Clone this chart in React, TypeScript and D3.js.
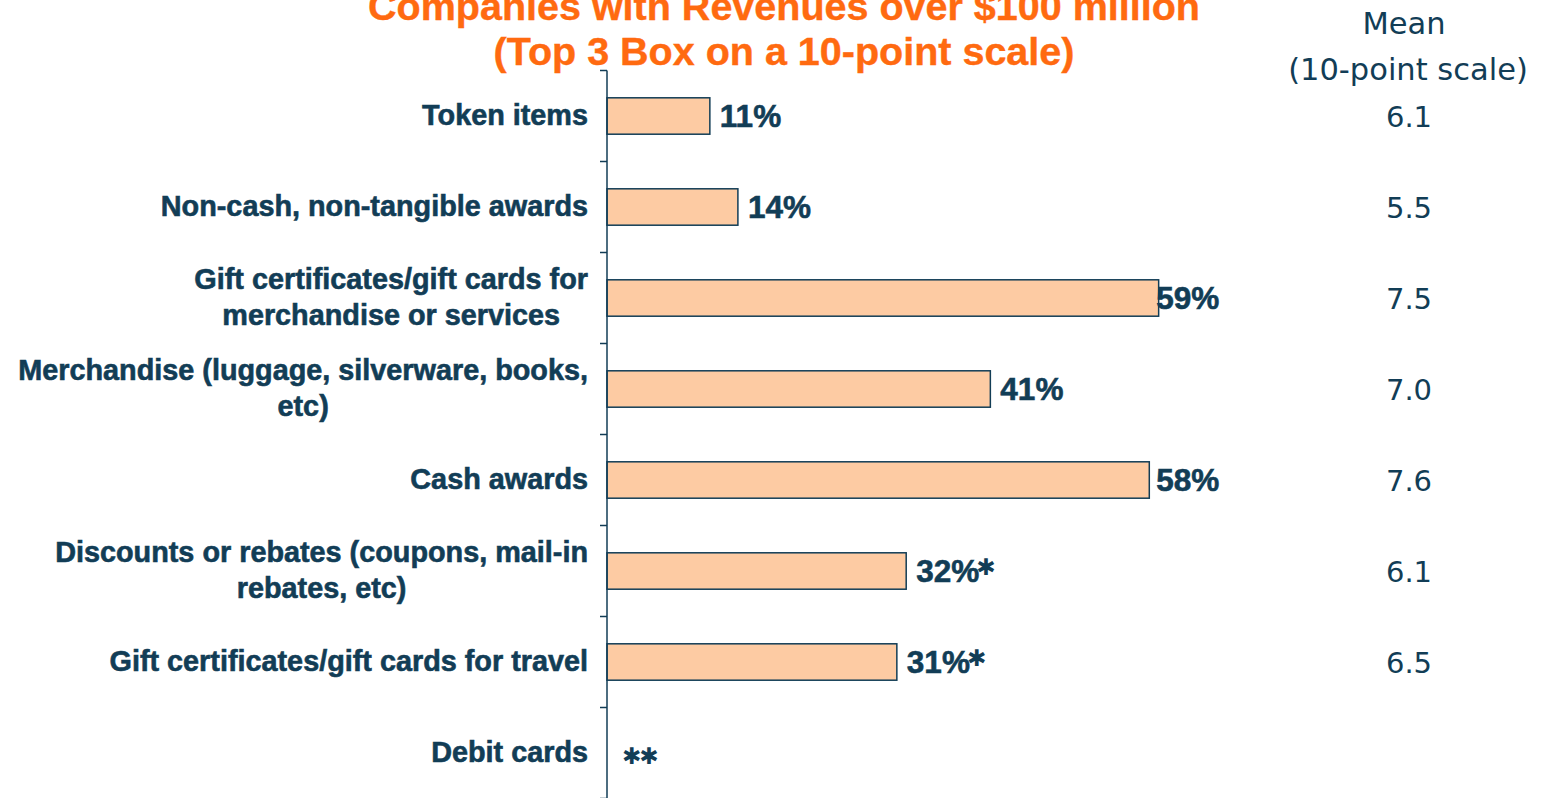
import React, { useEffect, useRef } from "react";
import * as d3 from "d3";

// categories, split into display lines
const categories = [
  ["Token items"],
  ["Non-cash, non-tangible awards"],
  ["Gift certificates/gift cards for", "merchandise or services"],
  ["Merchandise (luggage, silverware, books,", "etc)"],
  ["Cash awards"],
  ["Discounts or rebates (coupons, mail-in", "rebates, etc)"],
  ["Gift certificates/gift cards for travel"],
  ["Debit cards"],
];
const values = [11, 14, 59, 41, 58, 32, 31, null];
const notes = ["", "", "", "", "", "\u2731", "\u2731", "\u2731\u2731"];
const means = ["6.1", "5.5", "7.5", "7.0", "7.6", "6.1", "6.5", ""];

const titleLines = ["Companies with Revenues over $100 million", "(Top 3 Box on a 10-point scale)"];
const meanHeader = ["Mean", "(10-point scale)"];

const navy = "#123d56";
const orange = "#ff6a10";
const peach = "#fdcba3";
const boldFont = "Liberation Sans, Arial, sans-serif";
const plainFont = "DejaVu Sans, Verdana, sans-serif";

export default function App() {
  const ref = useRef<SVGSVGElement>(null);

  useEffect(() => {
    const svg = d3.select(ref.current);
    svg.selectAll("*").remove();

    const axisX = 607;
    const x = d3.scaleLinear().domain([0, 100]).range([axisX, axisX + 935]);
    const y = d3.scaleBand<number>()
      .domain(d3.range(categories.length))
      .range([70.5, 798.5])
      .padding(0);
    const barH = y.bandwidth() * 0.4;
    const mid = (i: number) => (y(i) as number) + y.bandwidth() / 2;

    // title
    svg.append("g")
      .selectAll("text")
      .data(titleLines)
      .join("text")
      .attr("x", 784)
      .attr("y", (d, i) => 20 + i * 45)
      .attr("text-anchor", "middle")
      .attr("font-family", boldFont)
      .attr("font-weight", "bold")
      .attr("font-size", 39.5)
      .attr("fill", orange)
      .attr("stroke", orange)
      .attr("stroke-width", 0.4)
      .text(d => d);

    // mean header
    svg.append("g")
      .selectAll("text")
      .data(meanHeader)
      .join("text")
      .attr("x", (d, i) => (i === 0 ? 1404 : 1408))
      .attr("y", (d, i) => 34 + i * 46)
      .attr("text-anchor", "middle")
      .attr("font-family", plainFont)
      .attr("font-size", 30.5)
      .attr("fill", navy)
      .text(d => d);

    // bars
    svg.append("g")
      .selectAll("rect")
      .data(values.map((v, i) => ({ v, i })).filter(d => d.v !== null))
      .join("rect")
      .attr("x", x(0))
      .attr("y", d => mid(d.i) - barH / 2)
      .attr("width", d => x(d.v as number) - x(0))
      .attr("height", barH)
      .attr("fill", peach)
      .attr("stroke", navy)
      .attr("stroke-width", 1.5);

    // axis line + ticks at band edges
    const ax = svg.append("g").attr("stroke", navy).attr("stroke-width", 1.5);
    ax.append("line")
      .attr("x1", axisX).attr("x2", axisX)
      .attr("y1", y.range()[0]).attr("y2", y.range()[1]);
    ax.selectAll("line.tick")
      .data(d3.range(categories.length + 1))
      .join("line")
      .attr("class", "tick")
      .attr("x1", axisX - 7).attr("x2", axisX)
      .attr("y1", i => (i < categories.length ? (y(i) as number) : y.range()[1]))
      .attr("y2", i => (i < categories.length ? (y(i) as number) : y.range()[1]));

    // category labels: multi-line blocks right-aligned, lines centred in block
    categories.forEach((lines, i) => {
      const g = svg.append("g");
      const texts = lines.map((line, k) =>
        g.append("text")
          .attr("y", mid(i) + 9 + (k - (lines.length - 1) / 2) * 36)
          .attr("font-family", boldFont)
          .attr("font-weight", "bold")
          .attr("font-size", 28.8)
          .attr("fill", navy)
          .attr("stroke", navy)
          .attr("stroke-width", 0.6)
          .text(line)
      );
      const widths = texts.map(t => (t.node() as SVGTextElement).getComputedTextLength());
      const w = d3.max(widths) as number;
      texts.forEach(t => t.attr("x", 588 - w / 2).attr("text-anchor", "middle"));
    });

    // value labels + footnote asterisks
    const capX = x(58) + 7;
    values.forEach((v, i) => {
      const lx = v === null ? x(0) + 15 : Math.min(x(v) + 10, capX);
      let end = lx;
      if (v !== null) {
        const t = svg.append("text")
          .attr("x", lx)
          .attr("y", mid(i) + 11)
          .attr("font-family", boldFont)
          .attr("font-weight", "bold")
          .attr("font-size", 31.5)
          .attr("fill", navy)
          .attr("stroke", navy)
          .attr("stroke-width", 0.6)
          .text(v + "%");
        end = lx + (t.node() as SVGTextElement).getComputedTextLength() - 3;
      }
      if (notes[i]) {
        svg.append("text")
          .attr("x", end)
          .attr("y", v === null ? mid(i) + 11 : mid(i) + 4)
          .attr("font-family", plainFont)
          .attr("font-size", 23)
          .attr("letter-spacing", -2)
          .attr("fill", navy)
          .text(notes[i]);
      }
    });

    // mean column
    svg.append("g")
      .selectAll("text")
      .data(means)
      .join("text")
      .attr("x", 1409)
      .attr("y", (d, i) => mid(i) + 11)
      .attr("text-anchor", "middle")
      .attr("font-family", plainFont)
      .attr("font-size", 29)
      .attr("fill", navy)
      .text(d => d);
  }, []);

  return (
    <svg
      ref={ref}
      width={1542}
      height={798}
      style={{ position: "absolute", left: 0, top: 0, background: "#fff" }}
    />
  );
}
